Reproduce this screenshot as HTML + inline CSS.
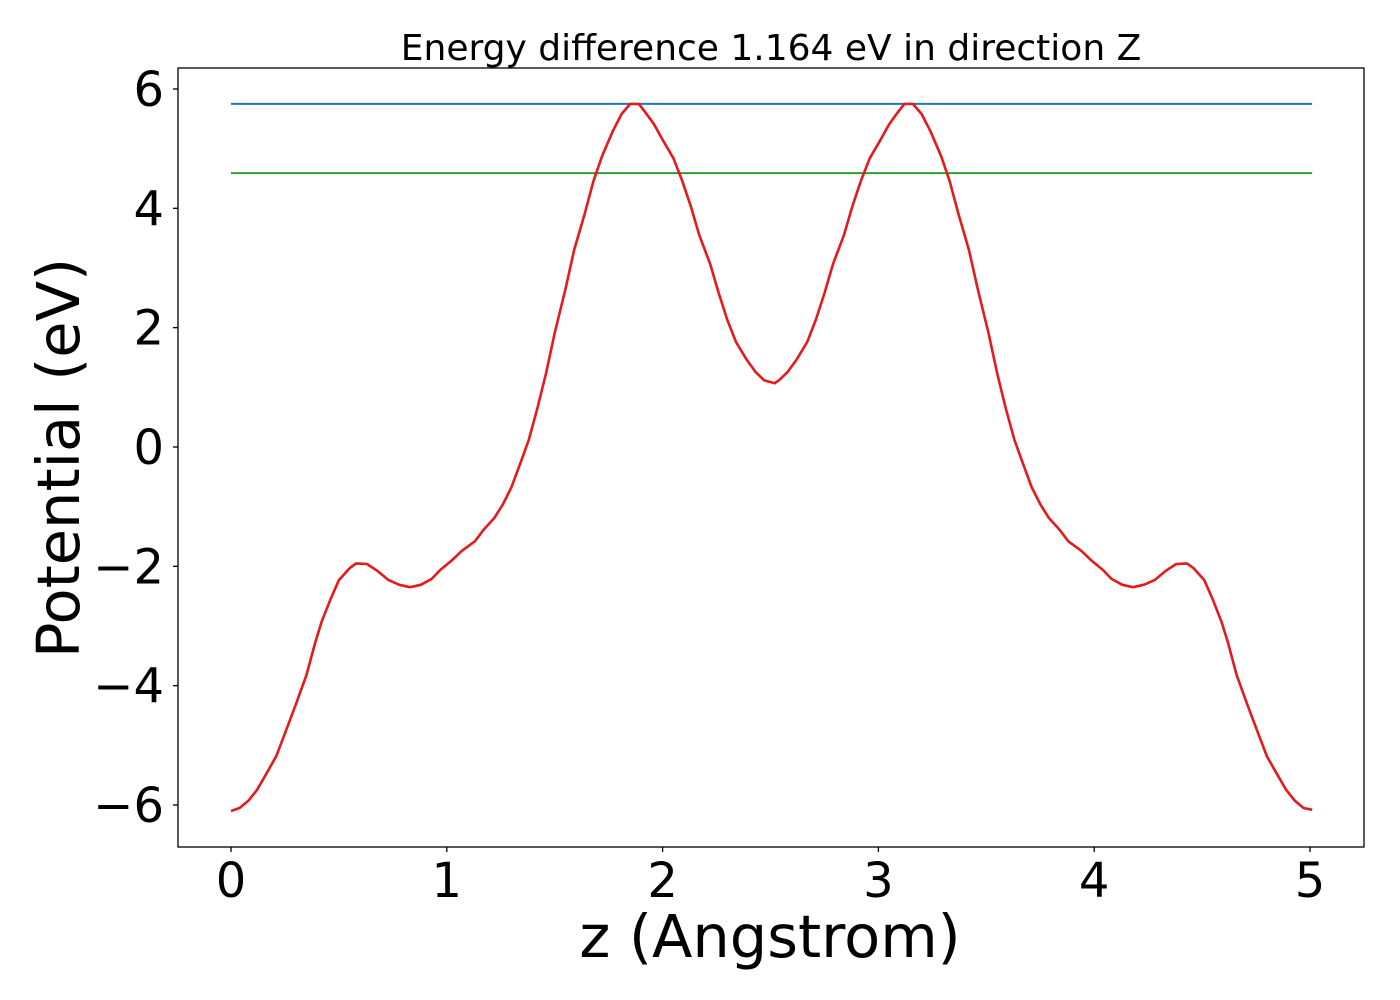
<!DOCTYPE html>
<html><head><meta charset="utf-8"><style>body{margin:0;background:#fff}svg{display:block}text{font-family:"DejaVu Sans","Liberation Sans",sans-serif;fill:#000}</style></head>
<body>
<svg id="chart" width="1400" height="1000" viewBox="0 0 1400 1000" xmlns="http://www.w3.org/2000/svg">
<rect x="178" y="68" width="1186" height="779" fill="#fff" stroke="#000" stroke-width="1.3"/>
<g id="xticks"></g>
<g id="yticks"></g>
<g id="series"></g>
<text x="771" y="60" font-size="36" text-anchor="middle">Energy difference 1.164 eV in direction Z</text>
<text x="770" y="957" font-size="59" text-anchor="middle">z (Angstrom)</text>
<text transform="translate(79,458) rotate(-90)" font-size="59" text-anchor="middle">Potential (eV)</text>
</svg>
<script>
const zValues=[0,.04,.08,.12,.16,.21,.25,.30,.35,.39,.42,.46,.5,.55,.58,.63,.68,.73,.78,.83,.88,.93,.97,1.02,1.07,1.13,1.17,1.22,1.26,1.3,1.34,1.38,1.42,1.46,1.5,1.55,1.59,1.64,1.68,1.72,1.77,1.81,1.85,1.89,1.92,1.96,2.0,2.05,2.09,2.13,2.17,2.22,2.26,2.3,2.34,2.39,2.43,2.47,2.52,2.54,2.58,2.62,2.67,2.71,2.75,2.79,2.84,2.88,2.92,2.96,3.01,3.05,3.09,3.12,3.16,3.2,3.24,3.29,3.33,3.37,3.42,3.46,3.51,3.55,3.59,3.63,3.67,3.71,3.75,3.79,3.84,3.88,3.94,3.99,4.04,4.08,4.13,4.18,4.23,4.28,4.33,4.38,4.43,4.46,4.51,4.55,4.59,4.62,4.66,4.71,4.76,4.8,4.85,4.89,4.93,4.97,5.01];
const potentialValues=[-6.1,-6.05,-5.93,-5.75,-5.5,-5.18,-4.8,-4.32,-3.82,-3.28,-2.93,-2.56,-2.23,-2.03,-1.95,-1.96,-2.08,-2.23,-2.31,-2.35,-2.31,-2.21,-2.06,-1.91,-1.74,-1.58,-1.39,-1.19,-0.96,-0.67,-0.28,0.12,0.65,1.24,1.91,2.65,3.3,3.92,4.46,4.88,5.3,5.58,5.75,5.75,5.61,5.41,5.15,4.84,4.47,4.04,3.55,3.07,2.58,2.13,1.76,1.46,1.26,1.12,1.07,1.12,1.26,1.46,1.76,2.13,2.58,3.07,3.55,4.04,4.47,4.84,5.15,5.41,5.61,5.75,5.75,5.58,5.3,4.88,4.46,3.92,3.3,2.65,1.91,1.24,0.65,0.12,-0.28,-0.67,-0.96,-1.19,-1.39,-1.58,-1.74,-1.91,-2.06,-2.21,-2.31,-2.35,-2.31,-2.23,-2.08,-1.96,-1.95,-2.03,-2.23,-2.56,-2.93,-3.28,-3.82,-4.32,-4.8,-5.18,-5.5,-5.75,-5.93,-6.05,-6.08];
const hLineValues=[5.75,4.59];
const hLineSpan=[0,5.01];
const xTickValues=[0,1,2,3,4,5];
const yTickValues=[-6,-4,-2,0,2,4,6];
const NS="http://www.w3.org/2000/svg";
const xs=v=>231+v*215.8, ys=v=>447-v*59.67;
function mk(tag,attrs,parent){const e=document.createElementNS(NS,tag);for(const k in attrs)e.setAttribute(k,attrs[k]);parent.appendChild(e);return e;}
const gx=document.getElementById('xticks'),gy=document.getElementById('yticks'),gs=document.getElementById('series');
xTickValues.forEach(v=>{const l=mk('line',{x1:xs(v),x2:xs(v),y1:847,y2:852,stroke:'#000','stroke-width':1.3},gx);


const t=mk('text',{x:xs(v),y:897,'font-size':48,'text-anchor':'middle'},gx);t.textContent=String(v);

});
yTickValues.forEach(v=>{const l=mk('line',{x1:173,x2:178,y1:ys(v),y2:ys(v),stroke:'#000','stroke-width':1.3},gy);


const t=mk('text',{x:164,y:ys(v)+17,'font-size':48,'text-anchor':'end'},gy);t.textContent=(v<0?'\u2212':'')+Math.abs(v);

});
const cols=['#1f77b4','#2ca02c'];
hLineValues.forEach((v,i)=>{const l=mk('line',{x1:xs(hLineSpan[0]),x2:xs(hLineSpan[1]),y1:ys(v),y2:ys(v),stroke:cols[i],'stroke-width':2},gs);

});
const d=zValues.map((z,i)=>(i?'L':'M')+xs(z).toFixed(1)+','+ys(potentialValues[i]).toFixed(1)).join('');
const p=mk('path',{d:d,fill:'none',stroke:'#e41a1c','stroke-width':2.6,'stroke-linejoin':'round'},gs);


</script>
</body></html>
